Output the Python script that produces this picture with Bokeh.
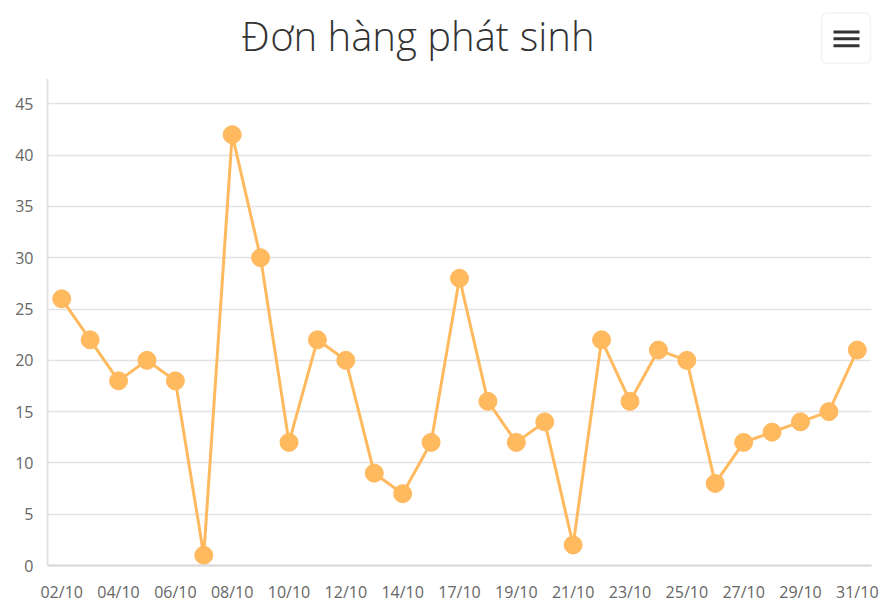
from bokeh.plotting import figure
from bokeh.models import Range1d, FixedTicker, Label, BoxAnnotation
from bokeh.embed import file_html
from bokeh.resources import INLINE

title_text = "Đơn hàng phát sinh"
dates = ["02/10", "03/10", "04/10", "05/10", "06/10", "07/10", "08/10", "09/10",
         "10/10", "11/10", "12/10", "13/10", "14/10", "16/10", "17/10", "18/10",
         "19/10", "20/10", "21/10", "22/10", "23/10", "24/10", "25/10", "26/10",
         "27/10", "28/10", "29/10", "30/10", "31/10"]
orders = [26, 22, 18, 20, 18, 1, 42, 30, 12, 22, 20, 9, 7, 12, 28, 16, 12, 14, 2,
          22, 16, 21, 20, 8, 12, 13, 14, 15, 21]
y_ticks = [0, 5, 10, 15, 20, 25, 30, 35, 40, 45]

xs = list(range(len(dates)))

W, H = 882, 605
BL, BR, BB = 47, 11, 38
AXIS_TOP_PX = 78            # where the value axis ends (page px)
X0, X1 = -0.5, len(dates) - 0.5
Y0, YMAX = 0, 47.5          # visible value axis extent
PX_PER_Y = (H - BB - AXIS_TOP_PX) / (YMAX - Y0)
Y1 = Y0 + (H - BB) / PX_PER_Y   # frame extends to the top so header fits inside

p = figure(width=W, height=H, output_backend="svg", toolbar_location=None,
           x_range=Range1d(X0, X1), y_range=Range1d(Y0, Y1),
           min_border_left=BL, min_border_right=BR, min_border_top=0,
           min_border_bottom=BB)
p.outline_line_color = None
p.background_fill_color = "white"
p.border_fill_color = "white"


def dx(px):
    return X0 + (px - BL) * (X1 - X0) / (W - BL - BR)


def dy(py):
    return Y0 + (H - BB - py) / PX_PER_Y


# grid
p.xgrid.grid_line_color = None
p.ygrid.grid_line_color = "#e3e3e3"
p.ygrid.grid_line_width = 1.5
p.ygrid.ticker = FixedTicker(ticks=y_ticks)

# y axis
p.yaxis.ticker = FixedTicker(ticks=y_ticks)
p.yaxis.bounds = (Y0, YMAX)
p.yaxis.axis_line_color = "#e3e3e3"
p.yaxis.axis_line_width = 2
p.yaxis.major_tick_line_color = None
p.yaxis.minor_tick_line_color = None
p.yaxis.major_tick_out = 0
p.yaxis.major_tick_in = 0
p.yaxis.major_label_standoff = 14
p.yaxis.major_label_text_font = "Open Sans"
p.yaxis.major_label_text_font_size = "16px"
p.yaxis.major_label_text_color = "#666666"

# x axis
tick_idx = xs[::2]
p.xaxis.ticker = FixedTicker(ticks=tick_idx)
p.xaxis.major_label_overrides = {i: dates[i] for i in tick_idx}
p.xaxis.axis_line_color = "#d6d6d6"
p.xaxis.axis_line_width = 2
p.xaxis.major_tick_line_color = None
p.xaxis.minor_tick_line_color = None
p.xaxis.major_tick_out = 0
p.xaxis.major_tick_in = 0
p.xaxis.major_label_standoff = 15
p.xaxis.major_label_text_font = "Open Sans"
p.xaxis.major_label_text_font_size = "16px"
p.xaxis.major_label_text_color = "#666666"

color = "#ffb95e"
p.line(xs, orders, line_color=color, line_width=3)
p.scatter(xs, orders, size=18, fill_color=color, line_color=color)

# title
p.add_layout(Label(x=dx(417.5), y=dy(35), text=title_text,
                   text_align="center", text_baseline="alphabetic",
                   text_font="Open Sans Light, Open Sans", text_font_size="40px",
                   text_color="#333333"))

# menu button
p.add_layout(BoxAnnotation(left=dx(821), right=dx(870), top=dy(12.5), bottom=dy(63),
                           fill_color="white", fill_alpha=1, line_color="#d6d6d6",
                           line_width=1.5, border_radius=6))
for yc in (31.5, 38.5, 45.5):
    p.add_layout(BoxAnnotation(left=dx(833), right=dx(859), top=dy(yc - 1.5),
                               bottom=dy(yc + 1.5), fill_color="#333333",
                               fill_alpha=1, line_color=None))

open("out.html", "w").write(file_html(p, INLINE))
